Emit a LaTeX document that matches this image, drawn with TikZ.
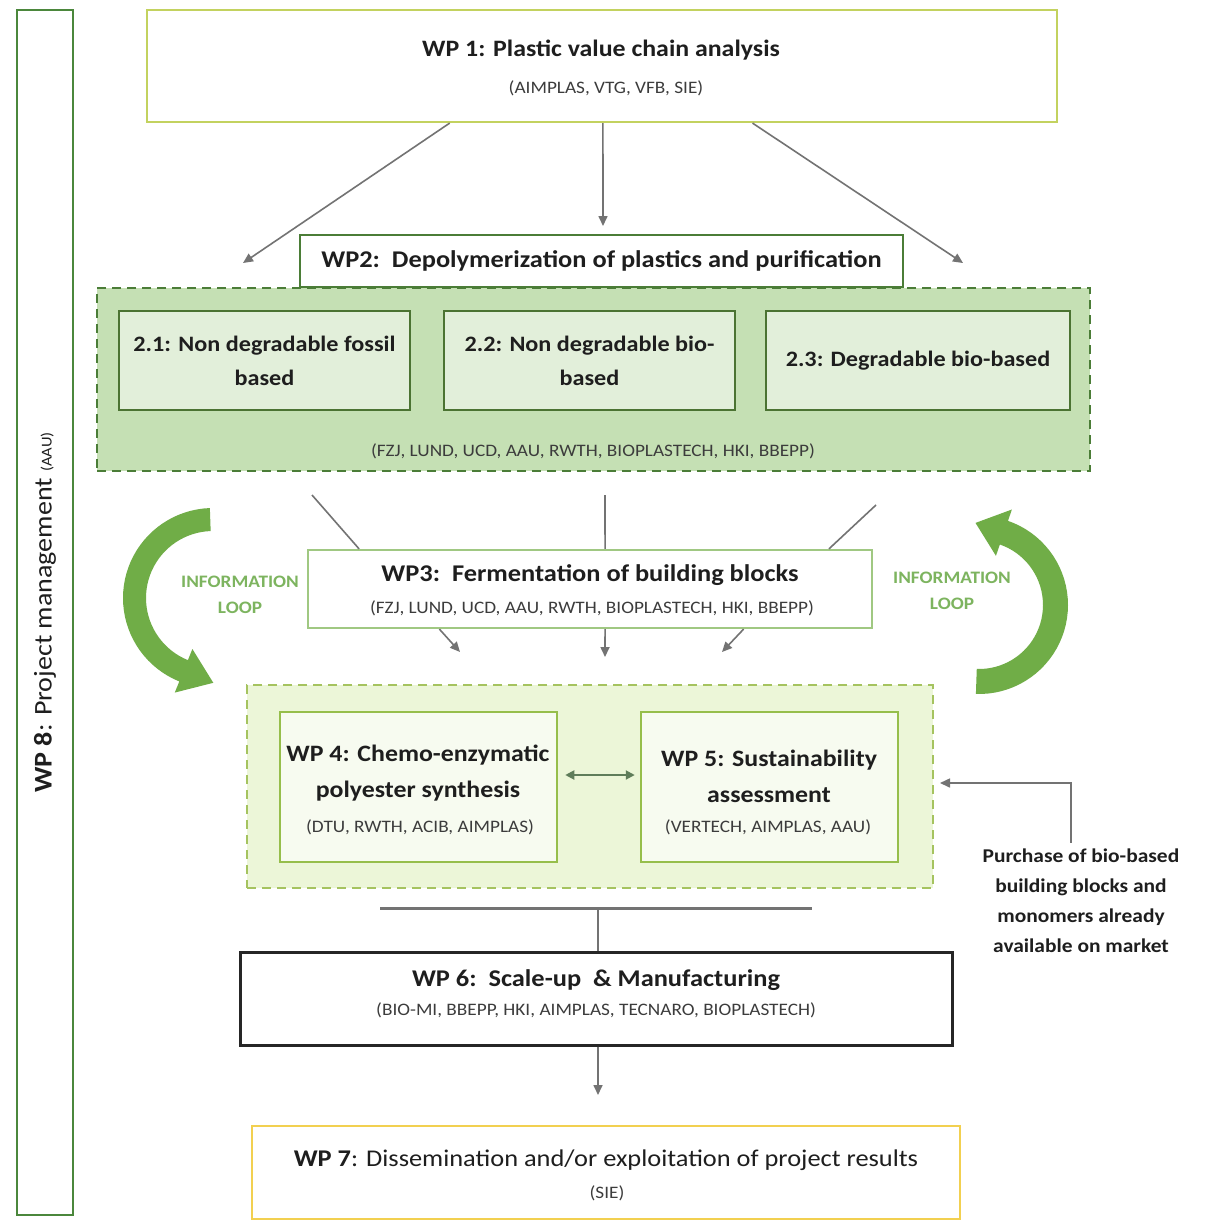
\documentclass[tikz,border=0pt]{standalone}
\usepackage{fontspec}
\setmainfont{Carlito}[FakeStretch=1.1]
\usetikzlibrary{arrows.meta,calc}
\definecolor{wpeightgreen}{RGB}{75,135,60}
\definecolor{wponeolive}{RGB}{195,210,95}
\definecolor{wptwogreen}{RGB}{75,125,55}
\definecolor{contfill}{RGB}{197,224,180}
\definecolor{subfill}{RGB}{226,239,218}
\definecolor{subdraw}{RGB}{75,115,50}
\definecolor{wpthreegreen}{RGB}{160,200,130}
\definecolor{loopgreen}{RGB}{112,173,71}
\definecolor{looptext}{RGB}{125,180,95}
\definecolor{lowfill}{RGB}{236,246,216}
\definecolor{lowdraw}{RGB}{165,195,95}
\definecolor{wpfourdraw}{RGB}{150,190,75}
\definecolor{wpfourfill}{RGB}{247,251,240}
\definecolor{wpsevengold}{RGB}{242,208,80}
\definecolor{arrgrey}{RGB}{115,115,115}
\definecolor{txtdark}{RGB}{30,30,30}
\definecolor{txtgrey}{RGB}{60,60,60}
\definecolor{dblarrow}{RGB}{95,125,90}
\tikzset{
  wpbox/.style={draw, line width=2.2pt, inner sep=0pt, fill=white},
  ttl/.style={inner sep=0pt, text=txtdark, font=\fontsize{24}{28}\selectfont\bfseries},
  prt/.style={inner sep=0pt, text=txtgrey, font=\fontsize{17.5}{20}\selectfont},
  subbox/.style={draw=subdraw, fill=subfill, line width=2pt, minimum height=99pt, inner sep=2pt, align=center, text=txtdark, font=\fontsize{22}{34}\selectfont\bfseries},
  greyarr/.style={draw=arrgrey, line width=1.6pt, -{Triangle[length=10pt,width=9pt]}},
  greyline/.style={draw=arrgrey, line width=1.6pt},
  looplbl/.style={inner sep=0pt, align=center, text=looptext, font=\fontsize{17.5}{26}\selectfont\bfseries},
}
\begin{document}
\begin{tikzpicture}[x=1pt,y=-1pt]
\useasboundingbox (0,0) rectangle (1207,1221);
\fill[white] (0,0) rectangle (1207,1221);

% WP8
\node[draw=wpeightgreen, line width=2.5pt, minimum width=1205pt, minimum height=56pt, inner sep=0pt, rotate=90, text=txtdark, font=\fontsize{25.5}{28}\selectfont] (wp8) at (45,612.5) {\textbf{WP 8}: Project management {\fontsize{15}{16}\selectfont (AAU)}};

% WP1
\node[wpbox, draw=wponeolive, minimum width=910pt, minimum height=112pt] (wp1) at (602,66) {};
\node[ttl, font=\fontsize{23.5}{28}\selectfont\bfseries] (wp1t) at (601,50) {WP 1: Plastic value chain analysis};
\node[prt] (wp1p) at (606,88) {(AIMPLAS, VTG, VFB, SIE)};

\coordinate (a1e) at (243,263);
\coordinate (a2e) at (603,226);
\coordinate (a3e) at (963,263);
\draw[greyarr] ($(wp1.south west)!0.333!(wp1.south east)$) -- (a1e);
\draw[greyarr] ($(wp1.south west)!0.501!(wp1.south east)$) -- (a2e);
\draw[greyarr] ($(wp1.south west)!0.665!(wp1.south east)$) -- (a3e);

% WP2 container
\node[draw=wptwogreen, fill=contfill, line width=2pt, dash pattern=on 9pt off 6pt, minimum width=993pt, minimum height=183pt, inner sep=0pt] (wp2c) at (593.5,379.5) {};
\node[wpbox, draw=wptwogreen, minimum width=603pt, minimum height=52pt, text=txtdark, font=\fontsize{24}{28}\selectfont\bfseries] (wp2) at (601.5,261) {WP2:\ \ Depolymerization of plastics and purification};
\node[subbox, minimum width=291pt] (s21) at (264.5,360.5) {2.1: Non degradable fossil\\based};
\node[subbox, minimum width=291pt] (s22) at (589.5,360.5) {2.2: Non degradable bio-\\based};
\node[subbox, minimum width=304pt] (s23) at (918,360.5) {\raisebox{4pt}{2.3: Degradable bio-based}};
\node[prt] (wp2p) at (593,451) {(FZJ, LUND, UCD, AAU, RWTH, BIOPLASTECH, HKI, BBEPP)};

% WP3
\node[wpbox, draw=wpthreegreen, minimum width=564pt, minimum height=78pt] (wp3) at (590,589) {};
\node[ttl] (wp3t) at (590,575) {WP3:\ \ Fermentation of building blocks};
\node[prt] (wp3p) at (592,608) {(FZJ, LUND, UCD, AAU, RWTH, BIOPLASTECH, HKI, BBEPP)};

\coordinate (l1s) at (312,495);
\coordinate (l2s) at (605,495);
\coordinate (l3s) at (876,505);
\draw[greyline] (l1s) -- ($(wp3.north west)!0.0922!(wp3.north east)$);
\draw[greyline] (l2s) -- ($(wp3.north west)!0.5266!(wp3.north east)$);
\draw[greyline] (l3s) -- ($(wp3.north west)!0.9220!(wp3.north east)$);

\coordinate (b1e) at (460,652);
\coordinate (b2e) at (605,657);
\coordinate (b3e) at (722,652);
\draw[greyarr] ($(wp3.south west)!0.2340!(wp3.south east)$) -- (b1e);
\draw[greyarr] ($(wp3.south west)!0.5266!(wp3.south east)$) -- (b2e);
\draw[greyarr] ($(wp3.south west)!0.7713!(wp3.south east)$) -- (b3e);

% information loops
\fill[loopgreen] plot[domain=268:112,samples=40] ({213+90*cos(\x)},{598+90*sin(\x)})
  -- ({213+102*cos(112)},{598+102*sin(112)}) -- (213.3,682.8)
  -- ({213+55*cos(112)},{598+55*sin(112)})
  -- plot[domain=112:268,samples=40] ({213+67*cos(\x)},{598+67*sin(\x)}) -- cycle;
\fill[loopgreen] plot[domain=92:-71,samples=40] ({979+89*cos(\x)},{605+89*sin(\x)})
  -- ({979+101*cos(-71)},{605+101*sin(-71)}) -- (975.5,522.9)
  -- ({979+52*cos(-71)},{605+52*sin(-71)})
  -- plot[domain=-71:92,samples=40] ({979+64*cos(\x)},{605+64*sin(\x)}) -- cycle;
\node[looplbl] (loopl) at (240,595) {INFORMATION\\LOOP};
\node[looplbl] (loopr) at (952,591) {INFORMATION\\LOOP};

% WP4/5 container
\node[draw=lowdraw, fill=lowfill, line width=2pt, dash pattern=on 9pt off 6pt, minimum width=686pt, minimum height=203pt, inner sep=0pt] (wp45) at (590,786.5) {};
\node[draw=wpfourdraw, fill=wpfourfill, line width=2.5pt, minimum width=277pt, minimum height=150pt, inner sep=0pt] (wp4) at (418.5,787) {};
\node[inner sep=0pt, align=center, text=txtdark, font=\fontsize{23.5}{36}\selectfont\bfseries] (wp4t) at (418,773) {WP 4: Chemo-enzymatic\\polyester synthesis};
\node[prt] (wp4p) at (420,827) {(DTU, RWTH, ACIB, AIMPLAS)};
\node[draw=wpfourdraw, fill=wpfourfill, line width=2.5pt, minimum width=257pt, minimum height=150pt, inner sep=0pt] (wp5) at (769.5,787) {};
\node[inner sep=0pt, align=center, text=txtdark, font=\fontsize{23.5}{36}\selectfont\bfseries] (wp5t) at (769,776) {WP 5: Sustainability\\assessment};
\node[prt] (wp5p) at (768,827) {(VERTECH, AIMPLAS, AAU)};
\draw[draw=dblarrow, line width=2pt, {Triangle[length=9pt,width=9pt]}-{Triangle[length=9pt,width=9pt]}, shorten <=7pt, shorten >=5pt] ([yshift=12pt]wp4.east) -- ([yshift=12pt]wp5.west);

% purchase
\node[inner sep=0pt, align=center, text=txtdark, font=\fontsize{19.5}{30}\selectfont\bfseries] (purch) at (1081,901) {Purchase of bio-based\\building blocks and\\monomers already\\available on market};
\draw[greyarr] ([xshift=-10pt,yshift=6pt]purch.north) |- ([yshift=3.5pt,xshift=6pt]wp45.east);

% to WP6
\coordinate (hl1) at (380,908);
\coordinate (hl2) at (812,908);
\coordinate (hm) at (598,908);
\draw[draw=arrgrey, line width=3pt] (hl1) -- (hl2);
\node[draw=black!85, line width=3pt, minimum width=712pt, minimum height=93pt, inner sep=0pt, fill=white] (wp6) at (596,998.5) {};
\draw[greyline] (hm) -- (hm |- wp6.north);
\node[ttl] (wp6t) at (596,980) {WP 6:\ \ Scale-up\ \ \& Manufacturing};
\node[prt] (wp6p) at (596,1010) {(BIO-MI, BBEPP, HKI, AIMPLAS, TECNARO, BIOPLASTECH)};

\coordinate (w7a) at (598,1095);
\draw[greyarr] (wp6.south -| w7a) -- (w7a);

% WP7
\node[wpbox, draw=wpsevengold, line width=2.5pt, minimum width=708pt, minimum height=93pt] (wp7) at (606,1172.5) {};
\node[inner sep=0pt, text=txtdark, font=\fontsize{24}{28}\selectfont] (wp7t) at (606,1160) {\textbf{WP 7}: Dissemination and/or exploitation of project results};
\node[prt] (wp7p) at (607,1193) {(SIE)};
\end{tikzpicture}
\end{document}
